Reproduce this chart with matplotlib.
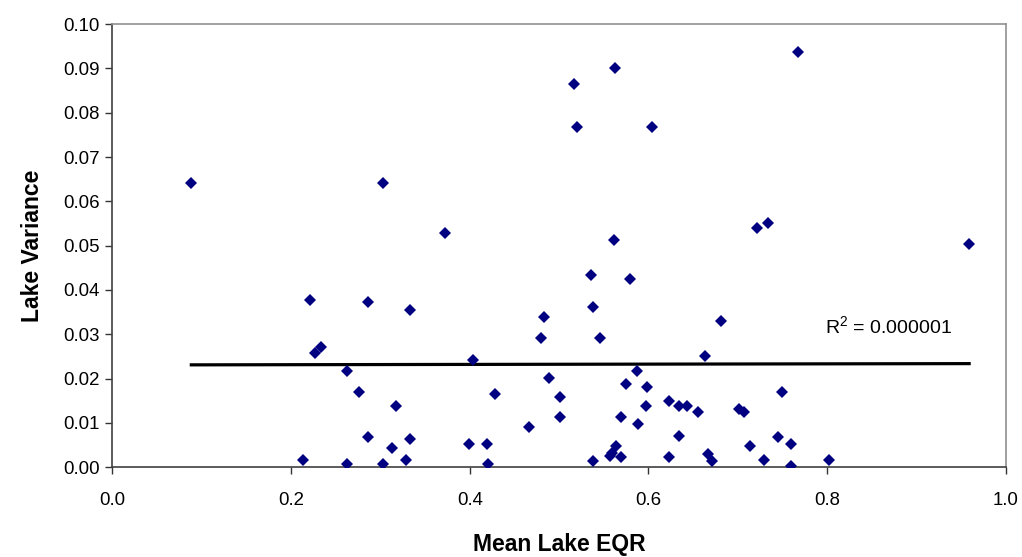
import matplotlib
matplotlib.use("Agg")
import matplotlib.pyplot as plt
import numpy as np

plt.rcParams["font.family"] = ["Liberation Sans", "DejaVu Sans"]
plt.rcParams["mathtext.fontset"] = "custom"
plt.rcParams["mathtext.rm"] = "Liberation Sans"

# --- data ---
mean_eqr = [
    0.0884, 0.2138, 0.2213, 0.2269, 0.2332, 0.2623, 0.2623, 0.2765, 0.2858, 0.2858,
    0.3033, 0.3033, 0.3134, 0.3171, 0.3287, 0.3332, 0.3332, 0.3724, 0.3989, 0.4033,
    0.4190, 0.4208, 0.4287, 0.4660, 0.4794, 0.4835, 0.4890, 0.5010, 0.5010, 0.5167,
    0.5204, 0.5360, 0.5383, 0.5383, 0.5458, 0.5570, 0.5597, 0.5620, 0.5618, 0.5637,
    0.5692, 0.5697, 0.5749, 0.5794, 0.5869, 0.5887, 0.5970, 0.5988, 0.6044, 0.6227,
    0.6234, 0.6340, 0.6343, 0.6429, 0.6555, 0.6637, 0.6663, 0.6712, 0.6810, 0.7018,
    0.7070, 0.7137, 0.7219, 0.7297, 0.7338, 0.7450, 0.7495, 0.7593, 0.7593, 0.7671,
    0.8021, 0.9588,
]
lake_var = [
    0.0641, 0.0016, 0.0377, 0.0259, 0.0272, 0.0217, 0.0007, 0.0169, 0.0068, 0.0374,
    0.0641, 0.0007, 0.0043, 0.0138, 0.0016, 0.0063, 0.0354, 0.0528, 0.0052, 0.0242,
    0.0052, 0.0007, 0.0165, 0.0090, 0.0292, 0.0338, 0.0201, 0.0158, 0.0114, 0.0865,
    0.0768, 0.0433, 0.0362, 0.0015, 0.0292, 0.0025, 0.0032, 0.0901, 0.0512, 0.0048,
    0.0024, 0.0114, 0.0189, 0.0425, 0.0217, 0.0098, 0.0138, 0.0182, 0.0768, 0.0150,
    0.0024, 0.0071, 0.0138, 0.0138, 0.0125, 0.0252, 0.0030, 0.0015, 0.0331, 0.0131,
    0.0125, 0.0047, 0.0539, 0.0016, 0.0551, 0.0068, 0.0169, 0.0052, 0.0004, 0.0937,
    0.0016, 0.0504,
]
r2_label = "R$^{2}$ = 0.000001"

x = np.array(mean_eqr)
y = np.array(lake_var)

# linear trend line over the data range
slope, intercept = np.polyfit(x, y, 1)
tx = np.array([x.min(), x.max()])
ty = slope * tx + intercept

fig = plt.figure(figsize=(10.22, 5.57), dpi=100)
ax = fig.add_axes([0.1099, 0.161, 0.8744, 0.7959])

ax.plot(x, y, linestyle="none", marker="D", markersize=6.6,
        color="#000080", markeredgewidth=0, zorder=3)
ax.plot(tx, ty, color="black", linewidth=2.3, zorder=2)

ax.set_xlim(0, 1.0)
ax.set_ylim(0, 0.10)
ax.set_xticks(np.arange(0, 1.01, 0.2))
ax.set_yticks(np.arange(0, 0.101, 0.01))
ax.set_xticklabels([f"{v:.1f}" for v in np.arange(0, 1.01, 0.2)])
ax.set_yticklabels([f"{v:.2f}" for v in np.arange(0, 0.101, 0.01)])
ax.tick_params(axis="both", direction="out", length=5, width=1,
               labelsize=13.4, color="#333333", pad=4)
ax.tick_params(axis="x", pad=13)

for side in ("left", "bottom"):
    ax.spines[side].set_color("#404040")
    ax.spines[side].set_linewidth(1.2)
for side in ("top", "right"):
    ax.spines[side].set_color("#909090")
    ax.spines[side].set_linewidth(1.2)

ax.set_xlabel("Mean Lake EQR", fontsize=16.5, fontweight="bold", labelpad=17)
ax.set_ylabel("Lake Variance", fontsize=16.5, fontweight="bold", labelpad=14)

ax.text(0.797, 0.0318, r2_label, fontsize=14, ha="left", va="center")

fig.savefig("out.png", dpi=100)
